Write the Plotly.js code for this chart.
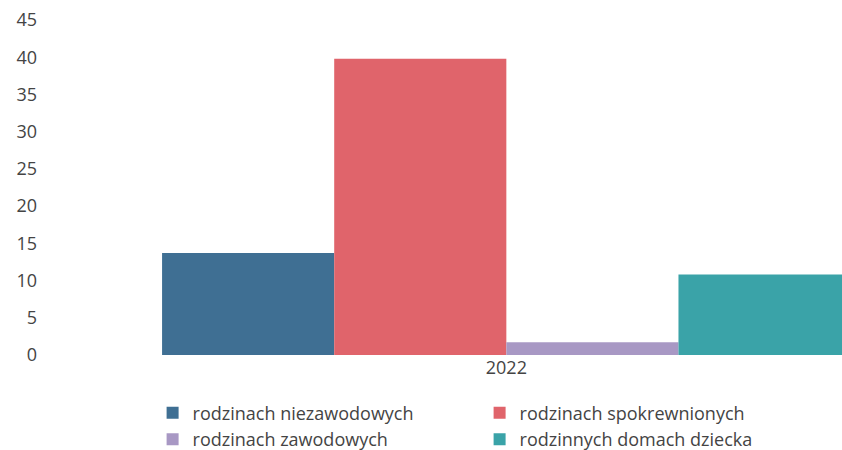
<!DOCTYPE html>
<html>
<head>
<meta charset="utf-8">
<script src="https://cdn.plot.ly/plotly-3.0.1.min.js"></script>
<style>html,body{margin:0;padding:0;background:#fff;}#chart{width:842px;height:450px;}</style>
</head>
<body>
<div id="chart"></div>
<script>
const categories = ['2022'];
const seriesNames = ['rodzinach niezawodowych', 'rodzinach spokrewnionych', 'rodzinach zawodowych', 'rodzinnych domach dziecka'];
const niezawodowe = [13.7];
const spokrewnione = [39.8];
const zawodowe = [1.7];
const domyDziecka = [10.8];
const yTicks = [0, 5, 10, 15, 20, 25, 30, 35, 40, 45];

const colors = ['#3f6f93', '#e0646b', '#a898c4', '#3aa3a8'];
const values = [niezawodowe, spokrewnione, zawodowe, domyDziecka];

const traces = seriesNames.map((name, i) => ({
  type: 'bar',
  name: name,
  x: categories,
  y: values[i],
  marker: { color: colors[i], line: { width: 0 } },
  hoverinfo: 'name+y'
}));

const layout = {
  width: 842,
  height: 450,
  margin: { l: 76, r: 0, t: 20, b: 95, autoexpand: false },
  paper_bgcolor: '#ffffff',
  plot_bgcolor: '#ffffff',
  font: { family: 'Open Sans, sans-serif', size: 18, color: '#444444' },
  barmode: 'group',
  bargap: 0.2,
  bargroupgap: 0,
  showlegend: true,
  xaxis: {
    type: 'category',
    range: [-0.5, 0.39],
    showgrid: false,
    zeroline: false,
    showline: false,
    ticks: '',
    tickfont: { size: 18, color: '#444444' }
  },
  yaxis: {
    range: [0, 45],
    tickvals: yTicks,
    showgrid: false,
    zeroline: false,
    showline: false,
    ticks: '',
    ticklabelstandoff: 38,
    tickfont: { size: 18, color: '#444444' }
  },
  legend: {
    orientation: 'h',
    x: 0.1,
    xanchor: 'left',
    y: -0.118,
    yanchor: 'top',
    traceorder: 'normal',
    entrywidth: 282,
    entrywidthmode: 'pixels',
    font: { size: 18, color: '#444444' },
    itemclick: false
  }
};

Plotly.newPlot('chart', traces, layout, { displayModeBar: false, staticPlot: true });
</script>
</body>
</html>
